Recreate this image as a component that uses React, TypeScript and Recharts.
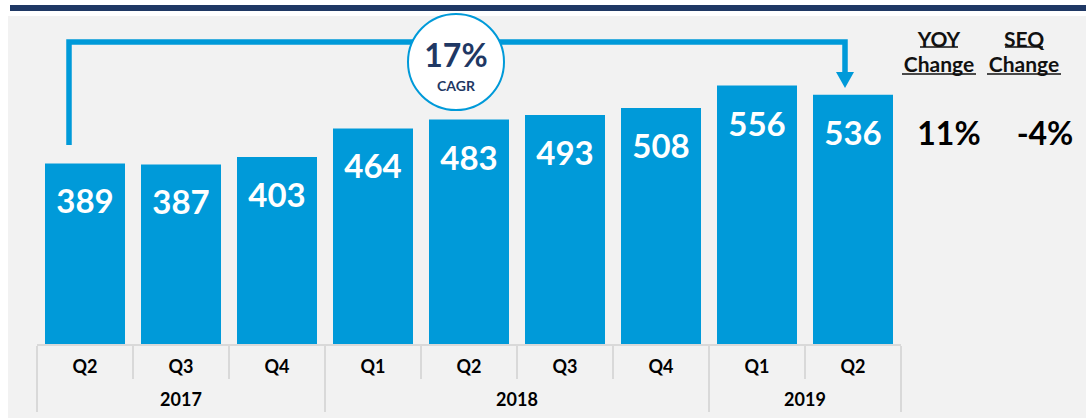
import React from "react";
import { BarChart, Bar, XAxis, YAxis, LabelList } from "recharts";

const quarters = ["Q2", "Q3", "Q4", "Q1", "Q2", "Q3", "Q4", "Q1", "Q2"];
const years = ["2017", "2017", "2017", "2018", "2018", "2018", "2018", "2019", "2019"];
const revenue = [389, 387, 403, 464, 483, 493, 508, 556, 536];
const changeHeaders = ["YOY", "SEQ"];
const changeValues = ["11%", "-4%"];
const cagrValue = "17%";
const cagrLabel = "CAGR";

const W = 1086;
const H = 418;
const AXIS_H = 73;
// bottom margin is 0: the x axis height is added below the plot by Recharts
const MARGIN = { top: 65, right: 185, bottom: 0, left: 37 };
const PLOT_W = W - MARGIN.left - MARGIN.right;
const BAND = PLOT_W / quarters.length;
const AXIS_Y = H - AXIS_H;

const BLUE = "#009ad9";
const NAVY = "#1f3864";
const GRID = "#d9d9d9";
const FONT = "Lato, 'Open Sans', sans-serif";

const data = quarters.map((q, i) => ({
  period: `${years[i]} ${q}`,
  revenue: revenue[i],
}));

// quarter label + separators, year label drawn under the first quarter of each year
function PeriodTick(props: any) {
  const { x, payload } = props;
  const i = payload.index;
  const left = x - BAND / 2;
  const firstOfYear = i === 0 || years[i] !== years[i - 1];
  const last = i === quarters.length - 1;
  let yearLabel = null;
  if (firstOfYear) {
    const n = years.filter((y) => y === years[i]).length;
    yearLabel = (
      <text
        x={left + (n * BAND) / 2}
        y={AXIS_Y + 54}
        textAnchor="middle"
        dominantBaseline="central"
        fontSize={18}
        fontWeight={700}
        fill="#000"
      >
        {years[i]}
      </text>
    );
  }
  return (
    <g fontFamily={FONT}>
      <line
        x1={left}
        x2={left}
        y1={AXIS_Y + 1}
        y2={AXIS_Y + (firstOfYear ? 67 : 34)}
        stroke={GRID}
        strokeWidth={2}
      />
      {last && (
        <line x1={left + BAND} x2={left + BAND} y1={AXIS_Y + 1} y2={AXIS_Y + 67} stroke={GRID} strokeWidth={2} />
      )}
      <text
        x={x}
        y={AXIS_Y + 21}
        textAnchor="middle"
        dominantBaseline="central"
        fontSize={18}
        fontWeight={700}
        fill="#000"
      >
        {quarters[i]}
      </text>
      {yearLabel}
    </g>
  );
}

function ValueLabel(props: any) {
  const { x, y, width, value } = props;
  return (
    <text
      x={x + width / 2}
      y={y + 37}
      textAnchor="middle"
      dominantBaseline="central"
      fontFamily={FONT}
      fontSize={33}
      fontWeight={700}
      fill="#fff"
    >
      {value}
    </text>
  );
}

export default function App() {
  return (
    <div style={{ position: "absolute", left: 0, top: 0, width: W, height: H, background: "#fff" }}>
      <svg width={W} height={H} style={{ position: "absolute", left: 0, top: 0 }}>
        <rect x={8} y={16} width={W - 8} height={H - 16} fill="#f2f2f2" />
        <rect x={10} y={5} width={W - 10} height={6} fill={NAVY} />
      </svg>
      <div style={{ position: "absolute", left: 0, top: 0 }}>
        <BarChart width={W} height={H} data={data} margin={MARGIN} barSize={80}>
          <YAxis hide domain={[0, 600]} />
          <XAxis
            dataKey="period"
            interval={0}
            height={AXIS_H}
            tickLine={false}
            axisLine={{ stroke: GRID, strokeWidth: 2 }}
            tick={<PeriodTick />}
          />
          <Bar dataKey="revenue" fill={BLUE} isAnimationActive={false}>
            <LabelList dataKey="revenue" content={<ValueLabel />} />
          </Bar>
        </BarChart>
      </div>
      <svg
        width={W}
        height={H}
        style={{ position: "absolute", left: 0, top: 0, pointerEvents: "none" }}
        fontFamily={FONT}
      >
        {/* CAGR bracket */}
        <polyline points="69,145 69,42 845,42 845,73" fill="none" stroke={BLUE} strokeWidth={5.5} />
        <polygon points="836,72 854,72 845,88" fill={BLUE} />
        <circle cx={456} cy={62} r={48} fill="#fff" stroke={BLUE} strokeWidth={2} />
        <text x={456} y={54} textAnchor="middle" dominantBaseline="central" fontSize={32} fontWeight={700} fill={NAVY}>
          {cagrValue}
        </text>
        <text x={456} y={85} textAnchor="middle" dominantBaseline="central" fontSize={14} fontWeight={700} fill={NAVY}>
          {cagrLabel}
        </text>
        {/* change columns */}
        {changeHeaders.map((h, i) => {
          const cx = i === 0 ? 939 : 1024;
          return (
            <g key={h}>
              <text x={cx} y={38} textAnchor="middle" dominantBaseline="central" fontSize={21} fontWeight={700} fill="#111">
                {h}
              </text>
              <line x1={cx - 19} x2={cx + 19} y1={47} y2={47} stroke="#111" strokeWidth={1.6} />
              <text x={cx} y={63} textAnchor="middle" dominantBaseline="central" fontSize={21} fontWeight={700} fill="#111">
                Change
              </text>
              <line x1={cx - 37} x2={cx + 37} y1={74} y2={74} stroke="#111" strokeWidth={1.6} />
              <text
                x={i === 0 ? 949 : 1045}
                y={132}
                textAnchor="middle"
                dominantBaseline="central"
                fontSize={32}
                fontWeight={700}
                fill="#000"
              >
                {changeValues[i]}
              </text>
            </g>
          );
        })}
      </svg>
    </div>
  );
}
